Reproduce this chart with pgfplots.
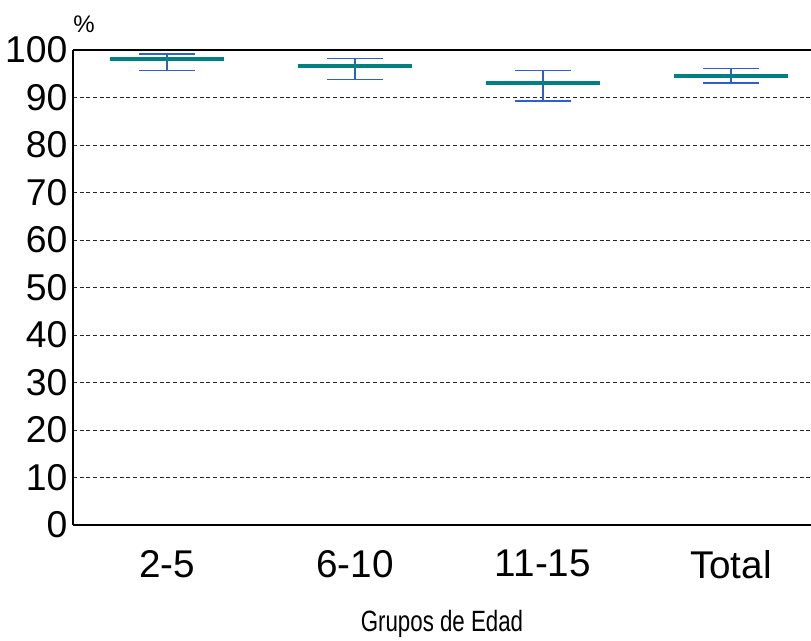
\documentclass[border=0pt]{standalone}
\usepackage{fontspec}
\setmainfont{Liberation Sans}
\newfontfamily\narrowfont[FakeStretch=0.76]{Liberation Sans}
\usepackage{pgfplots}
\usepackage{pgfplotstable}
\pgfplotsset{compat=1.18}
\definecolor{meanteal}{RGB}{0,128,128}
\definecolor{errblue}{RGB}{45,95,205}
\pgfplotstableread{
x m ep em
0 98.05 1.15 2.35
1 96.65 1.55 2.85
2 93.0 2.7 3.8
3 94.6 1.5 1.6
}\datatab
\begin{document}
\begin{tikzpicture}
\path[use as bounding box] (-54.75pt,-86.25pt) rectangle (553.5pt,393.75pt);
\begin{axis}[
  scale only axis,
  width=553.5pt, height=356.25pt,
  clip=false,
  xmin=-0.5, xmax=3.426,
  ymin=0, ymax=100,
  axis x line=box, axis y line=left,
  axis line style={line width=1pt, black, -},
  xtick={0,1,2,3},
  xticklabels={2-5,6-10,11-15,Total},
  ytick={0,10,...,100},
  major tick length=0pt,
  ymajorgrids,
  major grid style={densely dashed, line width=0.6pt, black!85},
  /pgf/number format/assume math mode=true,
  yticklabel style={font=\fontsize{28}{32}\selectfont, anchor=east, inner sep=0pt, xshift=-4pt},
  xticklabel style={font=\fontsize{29}{34}\selectfont, anchor=north, inner sep=0pt, yshift=-18.75pt},
  xlabel={Grupos de Edad},
  xlabel style={font=\narrowfont\fontsize{22}{24}\selectfont, at={(rel axis cs:0.5,0)}, anchor=north, inner sep=0pt, yshift=-64pt},
  ylabel={\%},
  ylabel style={font=\fontsize{18}{20}\selectfont, rotate=-90, at={(rel axis cs:0,1)}, anchor=south west, inner sep=0pt, yshift=12.75pt, xshift=0pt},
]
\addplot[draw=none, no marks,
  error bars/.cd, y dir=both, y explicit,
  error mark=|,
  error bar style={errblue, line width=1pt},
  error mark options={errblue, mark size=21pt, line width=1.2pt}]
  table[x=x, y=m, y error plus=ep, y error minus=em] {\datatab};
\addplot[only marks, mark=-, mark size=42.75pt, mark options={meanteal, line width=3pt}]
  table[x=x, y=m] {\datatab};
\end{axis}
\end{tikzpicture}
\end{document}
